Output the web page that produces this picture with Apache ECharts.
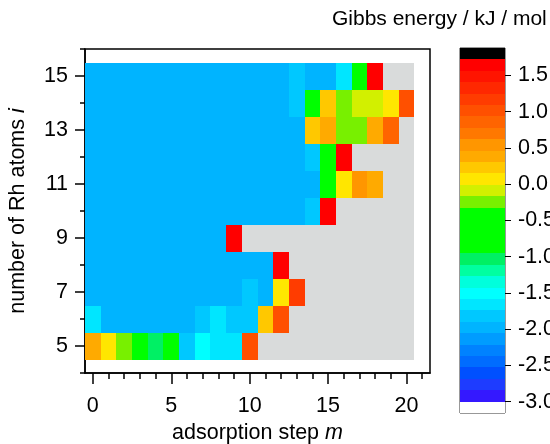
<!DOCTYPE html>
<html><head><meta charset="utf-8">
<script src="https://cdn.jsdelivr.net/npm/echarts@6/dist/echarts.min.js"></script>
<style>html,body{margin:0;padding:0;background:#fff}#c{width:550px;height:444px}</style>
</head><body><div id="c"></div>
<script>
// ---- data ----
const steps = [0,1,2,3,4,5,6,7,8,9,10,11,12,13,14,15,16,17,18,19,20];   // adsorption step m
const atoms = [5,6,7,8,9,10,11,12,13,14,15];                               // number of Rh atoms i
const N = null;
const row5  = [0.35,0.05,-0.25,-0.8,-1.05,-0.8,-1.85,-1.55,-1.7,-1.7,1.0,N,N,N,N,N,N,N,N,N,N];
const row6  = [-1.7,-2.0,-2.0,-2.0,-2.0,-2.0,-2.0,-1.85,-1.7,-1.85,-1.85,0.2,1.0,N,N,N,N,N,N,N,N];
const row7  = [-2.0,-2.0,-2.0,-2.0,-2.0,-2.0,-2.0,-2.0,-2.0,-2.0,-1.85,-2.0,0.05,1.15,N,N,N,N,N,N,N];
const row8  = [-2.0,-2.0,-2.0,-2.0,-2.0,-2.0,-2.0,-2.0,-2.0,-2.0,-2.0,-2.0,1.6,N,N,N,N,N,N,N,N];
const row9  = [-2.0,-2.0,-2.0,-2.0,-2.0,-2.0,-2.0,-2.0,-2.0,1.6,N,N,N,N,N,N,N,N,N,N,N];
const row10 = [-2.0,-2.0,-2.0,-2.0,-2.0,-2.0,-2.0,-2.0,-2.0,-2.0,-2.0,-2.0,-2.0,-2.0,-1.85,1.6,N,N,N,N,N];
const row11 = [-2.0,-2.0,-2.0,-2.0,-2.0,-2.0,-2.0,-2.0,-2.0,-2.0,-2.0,-2.0,-2.0,-2.0,-2.0,-0.8,0.05,0.5,0.35,N,N];
const row12 = [-2.0,-2.0,-2.0,-2.0,-2.0,-2.0,-2.0,-2.0,-2.0,-2.0,-2.0,-2.0,-2.0,-2.0,-1.85,-0.8,1.6,N,N,N,N];
const row13 = [-2.0,-2.0,-2.0,-2.0,-2.0,-2.0,-2.0,-2.0,-2.0,-2.0,-2.0,-2.0,-2.0,-2.0,0.2,0.35,-0.25,-0.25,0.35,0.8,N];
const row14 = [-2.0,-2.0,-2.0,-2.0,-2.0,-2.0,-2.0,-2.0,-2.0,-2.0,-2.0,-2.0,-2.0,-1.85,-0.8,0.2,-0.25,-0.1,-0.1,0.05,1.0];
const row15 = [-2.0,-2.0,-2.0,-2.0,-2.0,-2.0,-2.0,-2.0,-2.0,-2.0,-2.0,-2.0,-2.0,-1.85,-2.0,-2.0,-1.7,-0.8,1.6,N,N];
const energyRows = [row5,row6,row7,row8,row9,row10,row11,row12,row13,row14,row15];

// colour levels (bottom -> top)
const levelMin = -3.0;
const levelMax = 1.72;
const levelColors = ['#3418ff','#1e3cff','#0050ff','#006cff','#0082ff','#009cff','#00b4ff','#00c8ff','#00e6ff','#00ffff',
                     '#00ffdc','#00ffa0','#00f064','#00ff00','#00ff00','#00ff00','#00ff00','#78f000','#d2f000','#ffe600',
                     '#ffc800','#ffaa00','#ff9600','#ff7800','#ff6400','#ff5000','#ff3c00','#ff2800','#ff1400','#ff0000'];
const belowColor = '#ffffff';
const aboveColor = '#000000';
const missingColor = '#d9dbdb';

const xMajorTicks = [0,5,10,15,20];
const xMinorTicks = [0,1,2,3,4,5,6,7,8,9,10,11,12,13,14,15,16,17,18,19,20,21];
const yMajorTicks = [5,7,9,11,13,15];
const yMinorTicks = [4,5,6,7,8,9,10,11,12,13,14,15,16];
const colorbarTicks = [-3.0,-2.5,-2.0,-1.5,-1.0,-0.5,0.0,0.5,1.0,1.5];

// ---- build ----
const levelStep = (levelMax - levelMin) / levelColors.length;
function colorOf(v) {
  if (v < levelMin) return belowColor;
  if (v >= levelMax) return aboveColor;
  let k = Math.floor((v - levelMin) / levelStep);
  k = Math.max(0, Math.min(levelColors.length - 1, k));
  return levelColors[k];
}
const cellData = [], missingData = [];
atoms.forEach((i, r) => {
  steps.forEach((m, c) => {
    const v = energyRows[r][c];
    if (v === null) missingData.push([m, i]); else cellData.push([m, i, v]);
  });
});
const bandData = [];
bandData.push([levelMin - levelStep, levelMin, belowColor]);
levelColors.forEach((col, k) => bandData.push([levelMin + k * levelStep, levelMin + (k + 1) * levelStep, col]));
bandData.push([levelMax, levelMax + levelStep, aboveColor]);

const FONT = 'Liberation Sans, Arial, sans-serif';
const FS = 21.5;

function snapRect(p0, p1) {
  const x0 = Math.round(Math.min(p0[0], p1[0])), x1 = Math.round(Math.max(p0[0], p1[0]));
  const y0 = Math.round(Math.min(p0[1], p1[1])), y1 = Math.round(Math.max(p0[1], p1[1]));
  return { x: x0, y: y0, width: x1 - x0, height: y1 - y0 };
}
function cellRender(getColor) {
  return function (params, api) {
    const m = api.value(0), i = api.value(1);
    const p0 = api.coord([m - 0.5, i + 0.5]);
    const p1 = api.coord([m + 0.5, i - 0.5]);
    return { type: 'rect', shape: snapRect(p0, p1), style: { fill: getColor(api) } };
  };
}

const chart = echarts.init(document.getElementById('c'), null, { renderer: 'canvas' });
chart.setOption({
  animation: false,
  backgroundColor: '#fff',
  textStyle: { fontFamily: FONT },
  title: { text: 'Gibbs energy / kJ / mol', left: 327, top: 4,
           textStyle: { fontFamily: FONT, fontSize: 21, fontWeight: 'normal', color: '#000' } },
  grid: [
    { left: 85, top: 49, width: 345, height: 324, show: true, borderColor: '#000', borderWidth: 1.5,
      backgroundColor: 'transparent', containLabel: false, outerBoundsMode: 'none' },
    { left: 460, top: 48, width: 45, height: 365, show: true, borderColor: '#333', borderWidth: 1,
      backgroundColor: 'transparent', containLabel: false, outerBoundsMode: 'none' }
  ],
  xAxis: [
    { type: 'value', gridIndex: 0, min: -0.5, max: 21.5, position: 'bottom',
      axisLine: { show: true, onZero: false, lineStyle: { color: '#000', width: 1.5 } },
      axisTick: { show: true, customValues: xMajorTicks, length: 11, lineStyle: { color: '#000', width: 1.5 } },
      axisLabel: { show: true, customValues: xMajorTicks, fontSize: FS, margin: 22, color: '#000', fontFamily: FONT },
      splitLine: { show: false },
      name: 'adsorption step {it|m}', nameLocation: 'middle', nameGap: 48,
      nameTextStyle: { fontSize: FS, color: '#000', fontFamily: FONT,
        rich: { it: { fontStyle: 'italic', fontSize: FS, color: '#000', fontFamily: FONT } } } },
    { type: 'value', gridIndex: 0, min: -0.5, max: 21.5, position: 'bottom',
      axisLine: { show: false, onZero: false },
      axisTick: { show: true, customValues: xMinorTicks, length: 6, lineStyle: { color: '#000', width: 1.5 } },
      axisLabel: { show: false }, splitLine: { show: false } },
    { type: 'value', gridIndex: 1, min: 0, max: 1, show: false, axisLine: { onZero: false } }
  ],
  yAxis: [
    { type: 'value', gridIndex: 0, min: 4, max: 16, position: 'left',
      axisLine: { show: true, onZero: false, lineStyle: { color: '#000', width: 1.5 } },
      axisTick: { show: true, customValues: yMajorTicks, length: 10, lineStyle: { color: '#000', width: 1.5 } },
      axisLabel: { show: true, customValues: yMajorTicks, fontSize: FS, margin: 17, color: '#000', fontFamily: FONT },
      splitLine: { show: false },
      name: 'number of Rh atoms {it|i}', nameLocation: 'middle', nameGap: 56, nameRotate: 90,
      nameTextStyle: { fontSize: FS, color: '#000', fontFamily: FONT,
        rich: { it: { fontStyle: 'italic', fontSize: FS, color: '#000', fontFamily: FONT } } } },
    { type: 'value', gridIndex: 0, min: 4, max: 16, position: 'left',
      axisLine: { show: false, onZero: false },
      axisTick: { show: true, customValues: yMinorTicks, length: 5, lineStyle: { color: '#000', width: 1.5 } },
      axisLabel: { show: false }, splitLine: { show: false } },
    { type: 'value', gridIndex: 1, min: levelMin - levelStep, max: levelMax + levelStep, position: 'right',
      axisLine: { show: false, onZero: false },
      axisTick: { show: true, customValues: colorbarTicks, length: 6, lineStyle: { color: '#000', width: 1 } },
      axisLabel: { show: true, customValues: colorbarTicks, fontSize: FS, margin: 13, color: '#000', fontFamily: FONT,
                   formatter: v => v.toFixed(1) },
      splitLine: { show: false } }
  ],
  series: [
    { type: 'custom', name: 'missing', xAxisIndex: 0, yAxisIndex: 0, data: missingData,
      renderItem: cellRender(() => missingColor), z: 1 },
    { type: 'custom', name: 'energy', xAxisIndex: 0, yAxisIndex: 0, data: cellData,
      renderItem: cellRender(api => colorOf(api.value(2))), z: 2 },
    { type: 'custom', name: 'colorbar', xAxisIndex: 2, yAxisIndex: 2, data: bandData,
      renderItem: function (params, api) {
        const lo = api.value(0), hi = api.value(1);
        const col = bandData[params.dataIndex][2];
        const p0 = api.coord([0, hi]), p1 = api.coord([1, lo]);
        return { type: 'rect', shape: snapRect(p0, p1), style: { fill: col } };
      }, z: 1 }
  ]
});
</script></body></html>
